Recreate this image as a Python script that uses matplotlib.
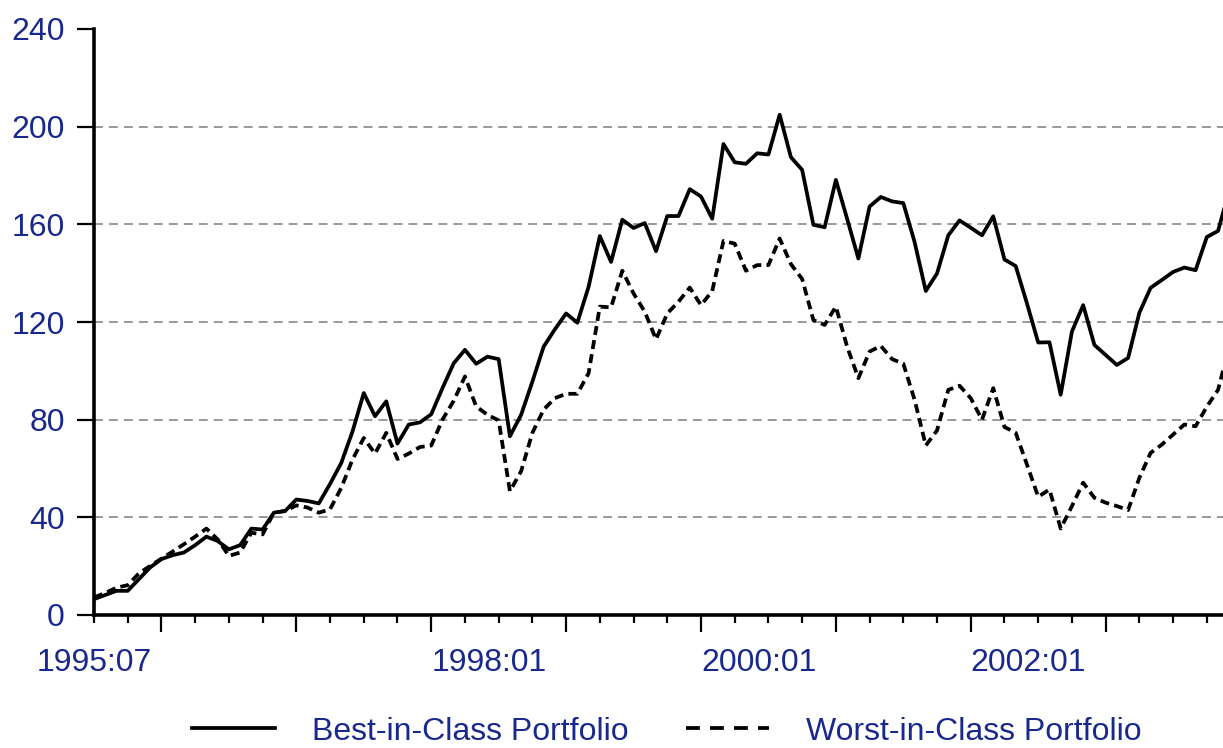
import matplotlib
matplotlib.use("Agg")
import matplotlib.pyplot as plt
from matplotlib.lines import Line2D
import pandas as pd

plt.rcParams['font.family'] = ['Liberation Sans', 'DejaVu Sans']

# monthly index values, 1995:07 onwards
best_in_class = [
    6.5, 8.2, 9.9, 9.9, 14.7, 19.5, 22.9, 24.5, 25.6, 28.6,
    32.1, 30.3, 26.9, 28.6, 35.4, 35.0, 41.9, 42.6, 47.3, 46.7,
    45.7, 53.7, 62.3, 75.2, 90.9, 81.4, 87.5, 70.2, 78.0, 78.9,
    82.2, 92.9, 103.1, 108.6, 102.9, 105.8, 104.8, 73.2, 82.0, 95.6,
    109.9, 117.0, 123.5, 119.7, 134.4, 155.2, 144.6, 161.9, 158.5, 160.5,
    149.0, 163.4, 163.4, 174.4, 171.4, 162.3, 192.9, 185.4, 184.8, 189.1,
    188.6, 204.9, 187.5, 182.3, 159.8, 158.8, 178.2, 162.3, 146.0, 167.3,
    171.2, 169.4, 168.7, 152.8, 132.7, 139.9, 155.5, 161.6, 158.6, 155.5,
    163.3, 145.6, 142.9, 127.6, 111.6, 111.7, 90.2, 116.1, 126.9, 110.6,
    106.5, 102.4, 105.3, 123.8, 134.0, 137.2, 140.5, 142.3, 141.2, 154.8,
    157.3, 174.0,
]
worst_in_class = [
    7.2, 9.0, 11.2, 12.2, 17.1, 20.1, 23.1, 26.0, 29.0, 32.1,
    35.4, 31.0, 24.2, 25.6, 33.7, 33.0, 41.9, 42.6, 44.9, 44.0,
    41.9, 43.3, 52.1, 63.7, 72.5, 66.1, 74.6, 63.9, 66.1, 68.8,
    69.4, 80.0, 87.7, 97.7, 85.4, 82.0, 79.7, 50.7, 58.9, 74.6,
    84.1, 88.8, 90.6, 90.6, 99.0, 126.3, 126.0, 141.0, 131.7, 124.2,
    112.9, 123.5, 128.3, 134.1, 126.9, 132.7, 153.2, 152.1, 141.0, 143.3,
    143.3, 154.2, 143.7, 137.6, 120.8, 118.8, 126.3, 109.9, 97.0, 107.9,
    110.2, 104.8, 102.9, 88.2, 69.4, 75.6, 92.2, 93.9, 88.8, 80.0,
    92.9, 77.0, 74.6, 61.6, 48.4, 51.4, 35.4, 44.6, 54.2, 48.0,
    46.0, 44.6, 43.0, 56.2, 66.4, 69.8, 73.9, 78.0, 77.3, 85.3,
    92.2, 110.0,
]
dates = pd.period_range('1995-07', periods=len(best_in_class), freq='M')
labelled = ['1995:07', '1998:01', '2000:01', '2002:01']
yticks = [0, 40, 80, 120, 160, 200, 240]

blue = '#19288c'

fig = plt.figure(figsize=(12.23, 7.48), dpi=100)
ax = fig.add_axes([94 / 1223, 133 / 748, 1129 / 1223, 586 / 748])

x = list(range(len(dates)))
ax.plot(x, best_in_class, color='black', lw=2.7)
ax.plot(x, worst_in_class, color='black', lw=2.7, linestyle=(0, (2.4, 1.4)))

ax.set_xlim(0, 100.44)
ax.set_ylim(0, 240)

names = [f'{d.year}:{d.month:02d}' for d in dates]
major = [i for i, d in enumerate(dates) if d.month == 1]
minor = [i for i, d in enumerate(dates) if d.month in (4, 7, 10)]
ax.set_xticks(major, [names[i] if names[i] in labelled else '' for i in major])
ax.set_xticks(minor, [names[i] if names[i] in labelled else '' for i in minor], minor=True)
for lab in ax.get_xticklabels():
    lab.set_horizontalalignment('left')

ax.set_yticks(yticks, [str(v) for v in yticks])

ax.tick_params(axis='x', which='major', length=12, width=1.6, pad=12, labelsize=23, labelcolor=blue)
ax.tick_params(axis='x', which='minor', length=6, width=1.6, pad=18, labelsize=23, labelcolor=blue)
ax.tick_params(axis='y', length=12, width=1.6, pad=9, labelsize=23, labelcolor=blue)

ax.yaxis.grid(True, color='#999999', lw=1.4, linestyle=(0, (4.6, 3.1)))
ax.get_ygridlines()[-1].set_visible(False)
ax.set_axisbelow(True)

for side in ['top', 'right']:
    ax.spines[side].set_visible(False)
for side in ['left', 'bottom']:
    ax.spines[side].set_linewidth(2.6)

# legend keys drawn a bit coarser, like the original
handles = [
    Line2D([], [], color='black', lw=2.7),
    Line2D([], [], color='black', lw=2.7, linestyle=(0, (3.7, 2.7))),
]
leg = fig.legend(handles, ['Best-in-Class Portfolio', 'Worst-in-Class Portfolio'],
                 loc='center', bbox_to_anchor=(0.545, 0.022), ncol=2, frameon=False,
                 fontsize=23, handlelength=2.6, handletextpad=1.15, columnspacing=1.8)
for t in leg.get_texts():
    t.set_color(blue)

fig.savefig('out.png', dpi=100)
